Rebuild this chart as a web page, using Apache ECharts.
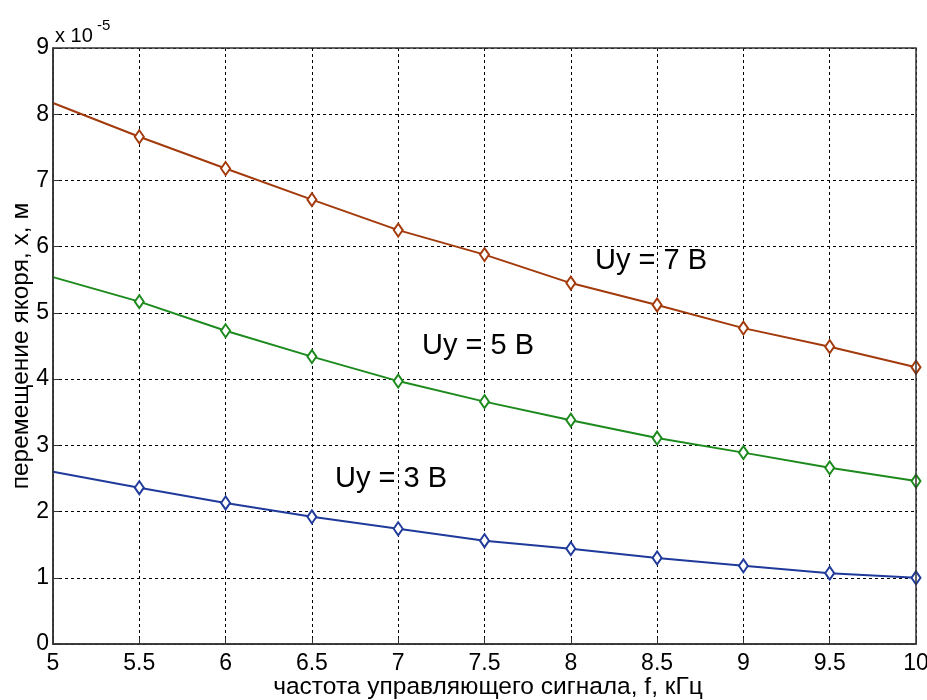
<!DOCTYPE html>
<html><head><meta charset="utf-8">
<script src="https://cdn.jsdelivr.net/npm/echarts@6/dist/echarts.min.js"></script>
<style>html,body{margin:0;padding:0;background:#fff}#c{width:927px;height:700px}</style>
</head><body><div id="c"></div>
<script>
const freq = [5, 5.5, 6, 6.5, 7, 7.5, 8, 8.5, 9, 9.5, 10];
const u7 = [8.17, 7.66, 7.18, 6.71, 6.25, 5.88, 5.45, 5.12, 4.77, 4.49, 4.18];
const u5 = [5.54, 5.17, 4.73, 4.34, 3.97, 3.66, 3.38, 3.11, 2.89, 2.66, 2.46];
const u3 = [2.60, 2.36, 2.13, 1.92, 1.74, 1.56, 1.44, 1.30, 1.18, 1.07, 1.00];
const seriesNames = ['Uy = 7 В', 'Uy = 5 В', 'Uy = 3 В'];
const xTitle = 'частота управляющего сигнала, f, кГц';
const yTitle = 'перемещение якоря, x, м';

const font = 'Liberation Sans, Arial, sans-serif';
function mk(vals, color, name) {
  return {
    type: 'line', name: name,
    data: freq.map((f, i) => i === 0 ? {value: [f, vals[i]], symbol: 'none'} : [f, vals[i]]),
    symbol: 'diamond', symbolSize: [9, 13], showAllSymbol: true,
    lineStyle: {color: color, width: 2},
    itemStyle: {color: '#fff', borderColor: color, borderWidth: 2},
    emphasis: {disabled: true}, animation: false, clip: false
  };
}
const chart = echarts.init(document.getElementById('c'));
chart.setOption({
  backgroundColor: '#fff',
  animation: false,
  grid: {left: 53, right: 11, top: 48, bottom: 56, outerBoundsMode: 'none', containLabel: false},
  xAxis: {
    type: 'value', min: 5, max: 10, interval: 0.5,
    axisLine: {show: true, lineStyle: {color: '#333', width: 1.5}},
    axisTick: {show: true, inside: true, length: 6, lineStyle: {color: '#333'}},
    axisLabel: {fontFamily: font, fontSize: 23, color: '#000', margin: 8},
    splitLine: {show: true, lineStyle: {color: '#000', type: [3, 3], width: 1}}
  },
  yAxis: {
    type: 'value', min: 0, max: 9, interval: 1,
    axisLine: {show: true, lineStyle: {color: '#333', width: 1.5}},
    axisTick: {show: true, inside: true, length: 6, lineStyle: {color: '#333'}},
    axisLabel: {fontFamily: font, fontSize: 23, color: '#000', margin: 4},
    splitLine: {show: true, lineStyle: {color: '#000', type: [3, 3], width: 1}}
  },
  series: [mk(u7, '#A23A0C', seriesNames[0]), mk(u5, '#1C8A1C', seriesNames[1]), mk(u3, '#1F3A9A', seriesNames[2])],
  graphic: [
    {type: 'rect', shape: {x: 53, y: 48, width: 863, height: 596}, style: {fill: 'none', stroke: '#333', lineWidth: 1.5}, silent: true, z: 10},
    {type: 'text', x: 488, y: 687, style: {text: xTitle, fontFamily: font, fontSize: 24.5, fill: '#000', align: 'center', verticalAlign: 'middle'}},
    {type: 'text', x: 21, y: 346, rotation: Math.PI / 2, style: {text: yTitle, fontFamily: font, fontSize: 24.5, fill: '#000', align: 'center', verticalAlign: 'middle'}},
    {type: 'text', x: 55, y: 26, style: {text: 'x 10', fontFamily: font, fontSize: 20, fill: '#000', verticalAlign: 'top'}},
    {type: 'text', x: 97, y: 18, style: {text: '-5', fontFamily: font, fontSize: 15, fill: '#000', verticalAlign: 'top'}},
    {type: 'text', x: 595, y: 261, style: {text: seriesNames[0], fontFamily: font, fontSize: 29, fill: '#000', verticalAlign: 'middle'}},
    {type: 'text', x: 422, y: 346, style: {text: seriesNames[1], fontFamily: font, fontSize: 29, fill: '#000', verticalAlign: 'middle'}},
    {type: 'text', x: 335, y: 479, style: {text: seriesNames[2], fontFamily: font, fontSize: 29, fill: '#000', verticalAlign: 'middle'}}
  ]
});
</script></body></html>
